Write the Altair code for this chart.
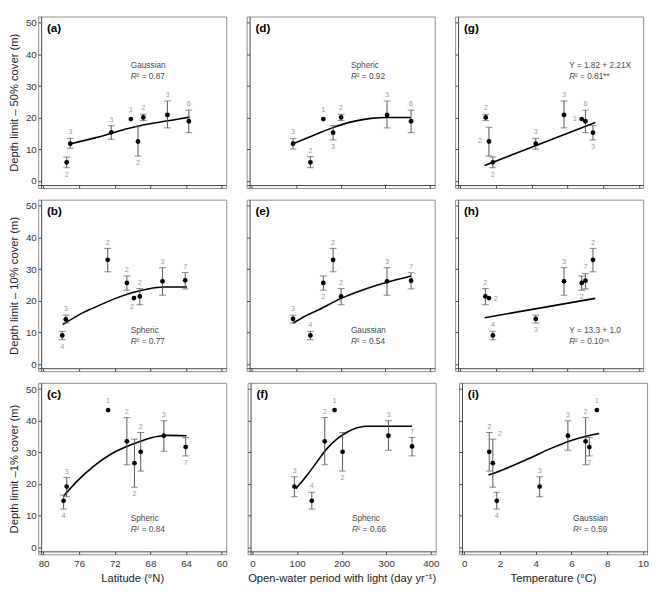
import altair as alt
import pandas as pd

FONT = "Liberation Sans"
ERR = "#555555"
NCOL = "#9a9a9a"
ANN = "#4a4a4a"

Y_TICKS = [0, 10, 20, 30, 40, 50]
X_TICKS = [[80, 76, 72, 68, 64, 60], [0, 100, 200, 300, 400], [0, 2, 4, 6, 8, 10]]
Y_TITLES = ["Depth limit – 50% cover (m)", "Depth limit – 10% cover (m)", "Depth limit –1% cover (m)"]
X_TITLES = ["Latitude (°N)", "Open-water period with light (day yr⁻¹)", "Temperature (°C)"]

# ---- (a) latitude vs 50% cover
a_x = [77.4, 77.0, 72.4, 70.2, 69.4, 68.8, 66.1, 63.7]
a_y = [5.9, 11.8, 15.4, 19.6, 12.5, 20.1, 20.9, 18.9]
a_lo = [4.2, 10.4, 13.2, None, 7.9, 19.1, 16.8, 15.3]
a_hi = [7.6, 13.5, 17.5, None, 17.2, 21.1, 25.3, 22.4]
a_n = [2, 3, 3, 1, 2, 2, 3, 6]
a_pos = ["below", "above", "above", "above", "below", "above", "above", "above"]
a_fx = [77.0, 74.0, 72.4, 70.5, 69.0, 67.0, 65.0, 63.6]
a_fy = [11.8, 13.8, 15.1, 16.6, 17.6, 18.6, 19.5, 20.2]

# ---- (b) latitude vs 10% cover
b_x = [77.9, 77.5, 72.8, 70.65, 69.85, 69.2, 66.65, 64.1]
b_y = [9.1, 14.2, 33.0, 25.7, 20.9, 21.4, 26.2, 26.5]
b_lo = [7.7, 13.0, 29.2, 23.4, None, 18.8, 21.8, 23.8]
b_hi = [10.4, 15.5, 36.6, 27.9, None, 23.9, 30.5, 29.0]
b_n = [4, 3, 2, 2, 2, 2, 3, 7]
b_pos = ["below", "above", "above", "above", "below", "above", "above", "above"]
b_fx = [77.85, 75.56, 73.75, 71.93, 70.1, 68.3, 66.5, 63.9]
b_fy = [12.5, 16.3, 18.6, 20.8, 22.6, 23.8, 24.4, 24.4]

# ---- (c) latitude vs 1% cover
c_x = [77.75, 77.4, 72.75, 70.65, 69.8, 69.1, 66.5, 64.05]
c_y = [14.7, 19.2, 43.4, 33.5, 26.6, 30.2, 35.3, 31.7]
c_lo = [12.1, 16.0, None, 26.1, 19.0, 24.1, 30.4, 28.9]
c_hi = [16.5, 22.1, None, 41.0, 34.2, 36.3, 40.0, 34.7]
c_n = [4, 3, 1, 2, 2, 2, 3, 7]
c_pos = ["below", "above", "above", "above", "below", "above", "above", "below"]
c_fx = [77.75, 76.2, 74.4, 72.6, 70.8, 68.95, 67.1, 66.05, 63.95]
c_fy = [16.2, 21.0, 25.6, 29.2, 31.7, 33.7, 35.1, 35.4, 35.3]

# ---- (d) open-water period vs 50% cover
d_x = [93, 132, 161, 183, 201, 304, 358]
d_y = [11.8, 5.9, 19.6, 15.3, 20.1, 20.9, 18.9]
d_lo = [10.1, 4.2, None, 13.0, 19.1, 16.8, 15.3]
d_hi = [13.5, 7.7, None, 17.5, 21.1, 25.3, 22.4]
d_n = [3, 2, 1, 3, 2, 3, 6]
d_pos = ["above", "above", "above", "below", "above", "above", "above"]
d_fx = [93, 137, 181, 224, 268, 304, 358]
d_fy = [11.8, 14.3, 16.8, 18.7, 19.8, 20.1, 20.1]

# ---- (e) open-water period vs 10% cover
e_x = [93, 132, 161, 183, 201, 304, 358]
e_y = [14.3, 9.1, 25.7, 33.0, 21.4, 26.2, 26.4]
e_lo = [13.0, 7.7, 23.4, 29.2, 18.8, 21.8, 23.8]
e_hi = [15.5, 10.4, 27.9, 36.6, 23.9, 30.5, 28.9]
e_n = [3, 4, 2, 2, 2, 3, 7]
e_pos = ["above", "above", "below", "above", "above", "above", "above"]
e_fx = [93, 122, 152, 201, 246, 304, 358]
e_fy = [13.0, 15.3, 17.3, 20.8, 23.3, 25.9, 27.9]

# ---- (f) open-water period vs 1% cover
f_x = [94, 133, 162, 184, 202, 305, 358]
f_y = [19.2, 14.7, 33.5, 43.4, 30.2, 35.3, 31.9]
f_lo = [16.0, 12.1, 26.1, None, 24.1, 30.7, 28.9]
f_hi = [22.3, 17.4, 41.0, None, 36.3, 40.0, 34.7]
f_n = [3, 4, 2, 1, 2, 3, 7]
f_pos = ["above", "above", "above", "above", "below", "above", "above"]
f_fx = [97, 124, 145, 167, 189, 211, 233, 254, 358]
f_fy = [18.5, 23.1, 27.1, 31.2, 34.2, 36.3, 37.7, 38.3, 38.3]

# ---- (g) temperature vs 50% cover
g_x = [1.42, 1.60, 1.82, 4.22, 5.80, 6.79, 7.00, 7.42]
g_y = [20.1, 12.5, 5.9, 11.8, 20.9, 19.6, 18.9, 15.3]
g_lo = [19.1, 7.9, 4.2, 10.1, 16.8, None, 15.3, 13.0]
g_hi = [21.1, 17.0, 7.6, 13.5, 25.3, None, 22.4, 17.5]
g_n = [2, 2, 2, 3, 3, 1, 6, 3]
g_pos = ["above", "left", "below", "above", "above", "left", "above", "below"]
g_fx = [1.36, 7.55]
g_fy = [4.9, 18.5]

# ---- (h) temperature vs 10% cover
h_x = [1.40, 1.60, 1.82, 4.22, 5.80, 6.79, 7.00, 7.42]
h_y = [21.4, 20.9, 9.1, 14.3, 26.2, 25.7, 26.4, 33.0]
h_lo = [18.8, None, 7.7, 13.0, 21.8, 23.4, 23.8, 29.2]
h_hi = [23.9, None, 10.4, 15.5, 30.5, 27.9, 28.7, 36.6]
h_n = [2, 2, 4, 3, 3, 2, 7, 2]
h_pos = ["above", "right", "above", "below", "above", "below", "above", "above"]
h_fx = [1.36, 7.55]
h_fy = [14.7, 20.8]

# ---- (i) temperature vs 1% cover
i_x = [1.40, 1.60, 1.82, 4.22, 5.80, 6.79, 7.00, 7.42]
i_y = [30.2, 26.6, 14.7, 19.2, 35.3, 33.5, 31.7, 43.4]
i_lo = [24.1, 19.0, 12.1, 16.0, 30.7, 26.1, 28.9, None]
i_hi = [36.3, 34.2, 17.4, 22.3, 40.0, 41.0, 34.7, None]
i_n = [2, 2, 4, 3, 3, 2, 7, 1]
i_pos = ["above", "aboveright", "below", "above", "above", "above", "below", "above"]
i_fx = [1.36, 1.73, 3.55, 4.82, 5.95, 6.82, 7.55]
i_fy = [22.9, 23.6, 27.9, 31.2, 33.7, 35.1, 36.0]

PANELS = {
    "a": (a_x, a_y, a_lo, a_hi, a_n, a_pos, a_fx, a_fy),
    "b": (b_x, b_y, b_lo, b_hi, b_n, b_pos, b_fx, b_fy),
    "c": (c_x, c_y, c_lo, c_hi, c_n, c_pos, c_fx, c_fy),
    "d": (d_x, d_y, d_lo, d_hi, d_n, d_pos, d_fx, d_fy),
    "e": (e_x, e_y, e_lo, e_hi, e_n, e_pos, e_fx, e_fy),
    "f": (f_x, f_y, f_lo, f_hi, f_n, f_pos, f_fx, f_fy),
    "g": (g_x, g_y, g_lo, g_hi, g_n, g_pos, g_fx, g_fy),
    "h": (h_x, h_y, h_lo, h_hi, h_n, h_pos, h_fx, h_fy),
    "i": (i_x, i_y, i_lo, i_hi, i_n, i_pos, i_fx, i_fy),
}
GRID = [["a", "d", "g"], ["b", "e", "h"], ["c", "f", "i"]]
MODEL_NAME = {"a": "Gaussian", "d": "Spheric", "g": "Y = 1.82 + 2.21X",
              "b": "Spheric", "e": "Gaussian", "h": "Y = 13.3 + 1.0",
              "c": "Spheric", "f": "Spheric", "i": "Gaussian"}
MODEL_R2 = {"a": "0.87", "d": "0.92", "g": "0.81**",
            "b": "0.77", "e": "0.54", "h": "0.10ⁿˢ",
            "c": "0.84", "f": "0.66", "i": "0.59"}

# layout / style (pixels)
W, H = 193, 176
ANN_X = [95, 107, 117]
ANN_Y = [(50, 61), (134, 145), (139, 150)]

XSCALES = [
    alt.Scale(domain=[59.5, 80.6], reverse=True, nice=False, zero=False),
    alt.Scale(domain=[-11, 411], nice=False, zero=False),
    alt.Scale(domain=[-0.29, 10.23], nice=False, zero=False),
]
YSCALE = alt.Scale(domain=[-2.2, 52], nice=False, zero=False)

POS_STYLE = {
    "above": dict(dx=0, dy=-2, align="center", baseline="bottom"),
    "below": dict(dx=0, dy=3, align="center", baseline="top"),
    "above_pt": dict(dx=0, dy=-5, align="center", baseline="bottom"),
    "below_pt": dict(dx=-2, dy=5, align="center", baseline="top"),
    "left": dict(dx=-7, dy=0, align="right", baseline="middle"),
    "left_pt": dict(dx=-5, dy=0, align="right", baseline="middle"),
    "right": dict(dx=6, dy=0, align="left", baseline="middle"),
    "right_pt": dict(dx=5, dy=1, align="left", baseline="middle"),
    "aboveright": dict(dx=5, dy=-1, align="left", baseline="bottom"),
}


def build_panel(key, row, col):
    xs, ys, lo, hi, ns, pos, fx, fy = PANELS[key]
    pts = pd.DataFrame({"x": xs, "y": ys, "lo": lo, "hi": hi,
                        "n": [str(v) for v in ns], "pos": pos})
    has = pts["lo"].notna()
    pts["ly"] = pts["y"]
    up = has & pts["pos"].isin(["above", "aboveright"])
    dn = has & (pts["pos"] == "below")
    pts.loc[up, "ly"] = pts.loc[up, "hi"]
    pts.loc[dn, "ly"] = pts.loc[dn, "lo"]
    pts["key"] = [p if (h or p == "aboveright") else p + "_pt" for p, h in zip(pts["pos"], has)]
    fit = pd.DataFrame({"x": fx, "y": fy})
    err = pts[has][["x", "lo", "hi"]].reset_index(drop=True)
    base = pts[["x", "y"]]

    show_x = row == 2
    show_y = col == 0
    xax = alt.Axis(values=X_TICKS[col], labels=show_x,
                   title=X_TITLES[col] if show_x else None, format="d")
    yax = alt.Axis(values=Y_TICKS, labels=show_y,
                   title=Y_TITLES[row] if show_y else None, format="d")

    def X(f):
        return alt.X(f, type="quantitative", scale=XSCALES[col], axis=xax)

    def Y(f):
        return alt.Y(f, type="quantitative", scale=YSCALE, axis=yax)

    layers = [
        alt.Chart(fit).mark_line(color="black", strokeWidth=1.6, interpolate="monotone")
        .encode(x=X("x"), y=Y("y")),
        alt.Chart(err).mark_rule(color=ERR, strokeWidth=1).encode(x=X("x"), y=Y("lo"), y2=alt.Y2("hi")),
        alt.Chart(err).mark_tick(color=ERR, orient="horizontal", size=7, thickness=1)
        .encode(x=X("x"), y=Y("lo")),
        alt.Chart(err).mark_tick(color=ERR, orient="horizontal", size=7, thickness=1)
        .encode(x=X("x"), y=Y("hi")),
        alt.Chart(base).mark_circle(color="black", size=24, opacity=1).encode(x=X("x"), y=Y("y")),
    ]
    for k, st in POS_STYLE.items():
        sub = pts[pts["key"] == k][["x", "ly", "n"]].reset_index(drop=True)
        if len(sub) == 0:
            continue
        layers.append(
            alt.Chart(sub).mark_text(color=NCOL, fontSize=7.5, **st)
            .encode(x=X("x"), y=Y("ly"), text="n:N")
        )
    ax = ANN_X[col]
    y1, y2 = ANN_Y[row]
    layers.append(
        alt.Chart(pd.DataFrame({"t": [MODEL_NAME[key]]}))
        .mark_text(color=ANN, fontSize=8.5, align="left", baseline="middle")
        .encode(text="t:N", x=alt.value(ax), y=alt.value(y1))
    )
    layers.append(
        alt.Chart(pd.DataFrame({"t": ["R"]}))
        .mark_text(color=ANN, fontSize=8.5, fontStyle="italic", align="left", baseline="middle")
        .encode(text="t:N", x=alt.value(ax), y=alt.value(y2))
    )
    layers.append(
        alt.Chart(pd.DataFrame({"t": ["² = " + MODEL_R2[key]]}))
        .mark_text(color=ANN, fontSize=8.5, align="left", baseline="middle")
        .encode(text="t:N", x=alt.value(ax + 6), y=alt.value(y2))
    )
    layers.append(
        alt.Chart(pd.DataFrame({"t": ["(" + key + ")"]}))
        .mark_text(color="black", fontSize=12, fontWeight="bold", align="left", baseline="middle")
        .encode(text="t:N", x=alt.value(9), y=alt.value(12))
    )
    return alt.layer(*layers).properties(width=W, height=H)


rows = []
for r in range(3):
    rows.append(alt.hconcat(*[build_panel(GRID[r][c], r, c) for c in range(3)], spacing=19))

chart = (
    alt.vconcat(*rows, spacing=10)
    .properties(padding={"left": 0, "top": 0, "right": 1, "bottom": 2})
    .configure(font=FONT)
    .configure_view(stroke="#8c8c8c", strokeWidth=1)
    .configure_axis(grid=False, tickSize=3, offset=-3, domainColor="#444444", tickColor="#444444",
                    labelFontSize=10, labelColor="#333333", titleFontSize=11.5,
                    titleFontWeight="normal", titleColor="#222222", labelFlush=False,
                    labelOverlap=False)
    .configure_axisY(labelPadding=2, titlePadding=6)
    .configure_axisX(labelPadding=5, titlePadding=4)
)

chart.save("out.html", embed_options={"renderer": "svg", "actions": False})
